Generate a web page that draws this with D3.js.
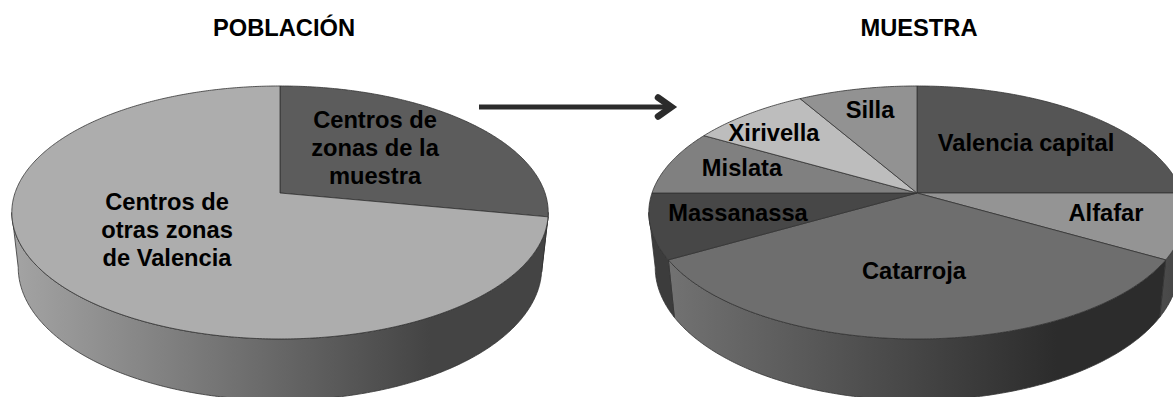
<!DOCTYPE html>
<html>
<head>
<meta charset="utf-8">
<script src="https://cdnjs.cloudflare.com/ajax/libs/d3/7.8.5/d3.min.js"></script>
<style>
    body { margin: 0; background: #fff; }
    svg { display: block; }
    text { font-family: "Liberation Sans", Arial, sans-serif; font-weight: bold; fill: #000; text-anchor: middle; font-size: 23.7px; }
</style>
</head>
<body>
<script>
// shares of each pie, clockwise from twelve o'clock
var poblacionNames = ["Centros de zonas de la muestra", "Centros de otras zonas de Valencia"];
var poblacionValues = [28, 72];
var muestraNames = ["Valencia capital", "Alfafar", "Catarroja", "Massanassa", "Mislata", "Xirivella", "Silla"];
var muestraValues = [3, 1, 4, 1, 1, 1, 1];

// face colours and the [left, right] colours of the rim
var poblacionFaces = ["#5c5c5c", "#adadad"];
var poblacionRims = [["#444444", "#3e3e3e"], ["#a4a4a4", "#444444"]];
var muestraFaces = ["#555555", "#949494", "#6e6e6e", "#474747", "#808080", "#bdbdbd", "#929292"];
var muestraRims = [["#333333", "#333333"], ["#4a4a4a", "#444444"], ["#727272", "#2c2c2c"], ["#3c3c3c", "#3c3c3c"], ["#444444", "#444444"], ["#444444", "#444444"], ["#444444", "#444444"]];

var width = 1173, height = 397;

var svg = d3.select("body").append("svg")
    .attr("width", width)
    .attr("height", height);
var defs = svg.append("defs");

svg.append("text").attr("x", 284).attr("y", 36).text("POBLACIÓN");
svg.append("text").attr("x", 919).attr("y", 36).text("MUESTRA");

// arrow going from one pie to the other
svg.append("line")
    .attr("x1", 479).attr("y1", 107).attr("x2", 672).attr("y2", 107)
    .attr("stroke", "#2b2b2b").attr("stroke-width", 5);
svg.append("polyline")
    .attr("points", "658,97.5 671.5,107 658,116.5")
    .attr("fill", "none").attr("stroke", "#2b2b2b").attr("stroke-width", 6.5)
    .attr("stroke-linecap", "round").attr("stroke-linejoin", "miter");

drawPie("poblacion", poblacionNames, poblacionValues, poblacionFaces, poblacionRims, 280,
    [[[375, 119], ["Centros de", "zonas de la", "muestra"]], [[167, 201], ["Centros de", "otras zonas", "de Valencia"]]]);
drawPie("muestra", muestraNames, muestraValues, muestraFaces, muestraRims, 917,
    [[[1026, 142], ["Valencia capital"]], [[1106, 212], ["Alfafar"]], [[914, 270], ["Catarroja"]],
     [[738, 212], ["Massanassa"]], [[742, 167], ["Mislata"]], [[774, 132], ["Xirivella"]], [[870, 109], ["Silla"]]]);

function drawPie(id, names, values, faces, rims, cx, labels) {
    var cy = 193, radiusX = 265, radiusY = 123.5, tilt = 0.154;
    // lower edge of the rim: a bit narrower and rounder than the top face
    var rimDrop = 54, rimScaleX = 0.976, rimScaleY = 1.05;
    // the rim's outline leaves the top face where the ellipse is widest
    var silhouette = Math.asin(tilt);

    var slices = d3.pie().sort(null)(values);
    var line = d3.line();

    // a point of the disc seen in perspective, so the centre sits above the middle of the ellipse
    function project(angle, scaleX, scaleY, drop) {
        var u = Math.sin(angle), v = -Math.cos(angle);
        var k = 1 / (1 - tilt * v);
        return [cx + radiusX * u * k * scaleX, cy + drop + radiusY * v * k * scaleY];
    }

    function arcPoints(a0, a1, scaleX, scaleY, drop) {
        var n = Math.max(2, Math.ceil((a1 - a0) / 0.01));
        return d3.range(n + 1).map(function(i) {
            return project(a0 + (a1 - a0) * i / n, scaleX, scaleY, drop);
        });
    }

    var pie = svg.append("g").attr("class", id);

    // rim first, only the front part is ever visible
    slices.forEach(function(d, i) {
        var a0 = Math.max(d.startAngle, Math.PI * 0.5 + silhouette);
        var a1 = Math.min(d.endAngle, Math.PI * 1.5 - silhouette);
        if (a1 <= a0) return;
        var top = arcPoints(a0, a1, 1, 1, 0);
        var bottom = arcPoints(a0, a1, rimScaleX, rimScaleY, rimDrop);

        var gradId = id + "-rim-" + i;
        var xs = top.map(function(p) { return p[0]; });
        var grad = defs.append("linearGradient")
            .attr("id", gradId)
            .attr("gradientUnits", "userSpaceOnUse")
            .attr("x1", d3.min(xs)).attr("x2", d3.max(xs))
            .attr("y1", 0).attr("y2", 0);
        grad.append("stop").attr("offset", 0).attr("stop-color", rims[i][0]);
        grad.append("stop").attr("offset", 0.78).attr("stop-color", rims[i][1]);
        grad.append("stop").attr("offset", 1).attr("stop-color", rims[i][1]);

        pie.append("path")
            .attr("d", line(top.concat(bottom.reverse())) + "Z")
            .attr("fill", "url(#" + gradId + ")")
            .attr("stroke", "#333").attr("stroke-width", 0.8);
    });

    // top faces
    slices.forEach(function(d, i) {
        var outline = [[cx, cy]].concat(arcPoints(d.startAngle, d.endAngle, 1, 1, 0));
        pie.append("path")
            .attr("d", line(outline) + "Z")
            .attr("fill", faces[i])
            .attr("stroke", "#333").attr("stroke-width", 0.8)
            .append("title").text(names[i]);
    });

    labels.forEach(function(l) {
        l[1].forEach(function(row, j) {
            pie.append("text")
                .attr("x", l[0][0])
                .attr("y", l[0][1] + j * 28)
                .attr("dy", "0.36em")
                .text(row);
        });
    });
}
</script>
</body>
</html>
